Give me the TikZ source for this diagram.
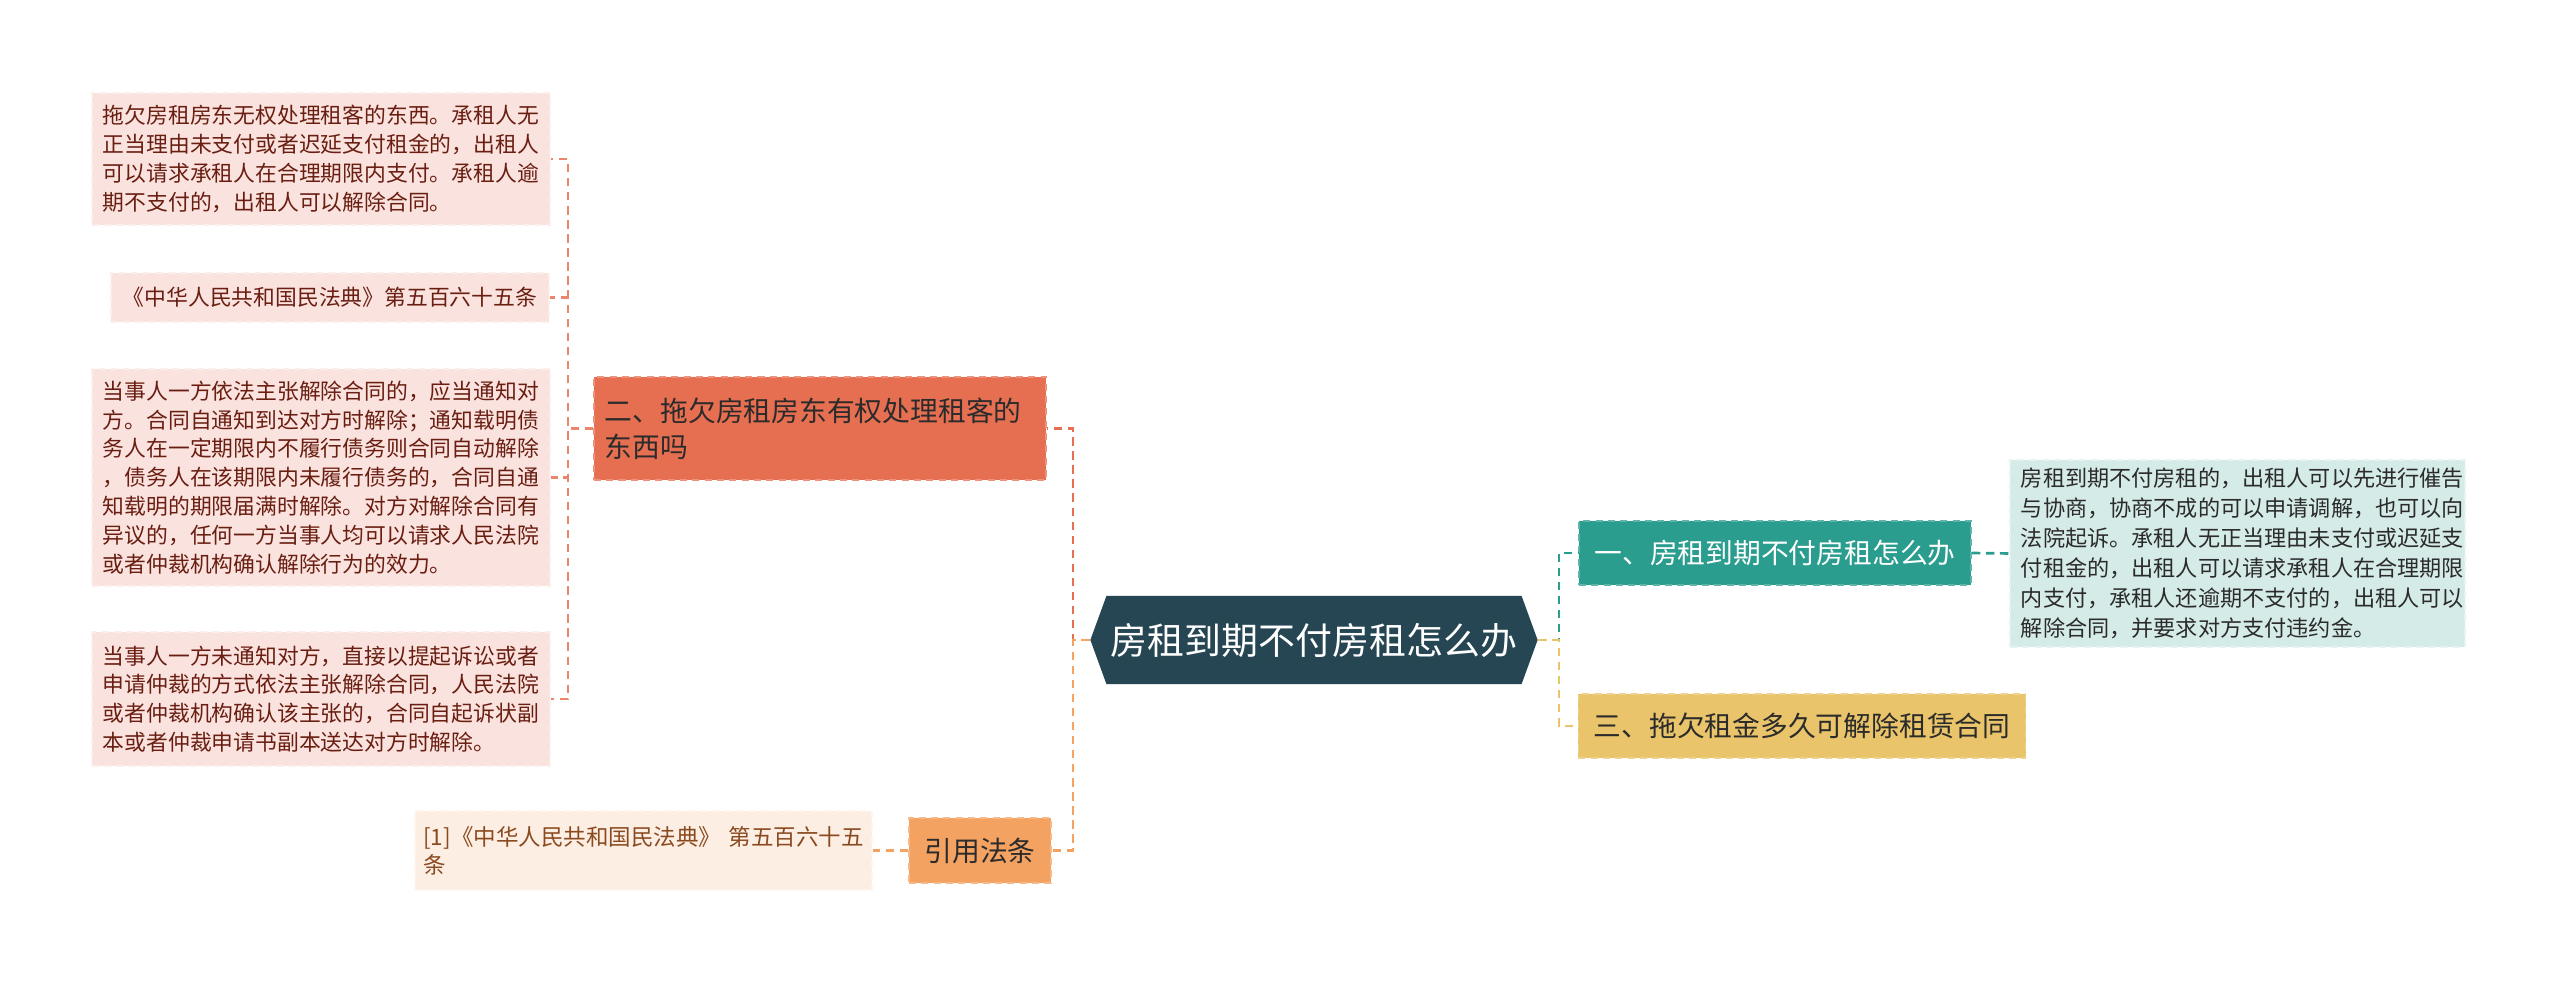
\documentclass[tikz,border=0pt]{standalone}
\usepackage{fontspec}
\setmainfont{Noto Sans CJK SC}
\usetikzlibrary{shapes.symbols}
\definecolor{rootc}{HTML}{264653}
\definecolor{tealc}{HTML}{2A9D8F}
\definecolor{yellowc}{HTML}{E9C46A}
\definecolor{redc}{HTML}{E76F51}
\definecolor{orangec}{HTML}{F4A261}
\definecolor{tealleafc}{HTML}{D5EBE8}
\definecolor{pinkc}{HTML}{FAE3DE}
\definecolor{peachc}{HTML}{FDEEE4}
\definecolor{maroonc}{HTML}{6A1E12}
\definecolor{brownc}{HTML}{8A4A1F}
\definecolor{darkc}{HTML}{2B2B2B}

\begin{document}
\begin{tikzpicture}[x=0.01cm,y=-0.01cm,
  box/.style={inner xsep=0.11cm,inner ysep=0pt,align=left,line width=0.4pt,dash pattern=on 2pt off 1.5pt},
  topic/.style={box,font=\fontsize{7.9}{10.2}\selectfont},
  leaf/.style={box,fill=pinkc,draw=pinkc!60!white,text=maroonc,text width=4.36cm,font=\fontsize{6.2}{8.2}\selectfont},
  link/.style={line width=0.75pt,dash pattern=on 2.4pt off 1.6pt}]
\fill[white] (0,0) rectangle (2560,983);
\node[signal,signal to=east and west,signal pointer angle=140,fill=rootc,text=white,minimum width=4.47cm,minimum height=0.88cm,inner sep=0pt,font=\fontsize{10.5}{12}\selectfont] (root) at (1314,640) {房租到期不付房租怎么办};
\node[topic,fill=tealc,draw=tealc!75!white,text=white,minimum width=3.92cm,minimum height=0.64cm] (q1) at (1775,553) {一、房租到期不付房租怎么办};
\node[topic,fill=yellowc,draw=yellowc!75!white,text=darkc,minimum width=4.47cm,minimum height=0.64cm] (q3) at (1802,726) {三、拖欠租金多久可解除租赁合同};
\node[topic,fill=redc,draw=redc!75!white,text=darkc,text width=4.3cm,minimum height=1.03cm] (q2) at (820,428.5) {二、拖欠房租房东有权处理租客的\\东西吗};
\node[topic,fill=orangec,draw=orangec!75!white,text=darkc,minimum width=1.42cm,minimum height=0.65cm] (cite) at (980,850.5) {引用法条};
\node[box,fill=tealleafc,draw=tealleafc!60!white,text=darkc,text width=4.33cm,minimum height=1.87cm,font=\fontsize{6.3}{8.5}\selectfont] (a1) at (2237.5,553.5) {房租到期不付房租的，出租人可以先进行催告\\与协商，协商不成的可以申请调解，也可以向\\法院起诉。承租人无正当理由未支付或迟延支\\付租金的，出租人可以请求承租人在合理期限\\内支付，承租人还逾期不支付的，出租人可以\\解除合同，并要求对方支付违约金。};
\node[leaf,minimum height=1.32cm] (b1) at (321,159) {拖欠房租房东无权处理租客的东西。承租人无\\正当理由未支付或者迟延支付租金的，出租人\\可以请求承租人在合理期限内支付。承租人逾\\期不支付的，出租人可以解除合同。};
\node[leaf,text width=,align=right,minimum width=4.38cm,minimum height=0.49cm] (b2) at (330,297.5) {《中华人民共和国民法典》第五百六十五条};
\node[leaf,minimum height=2.17cm] (b3) at (321,477.5) {当事人一方依法主张解除合同的，应当通知对\\方。合同自通知到达对方时解除；通知载明债\\务人在一定期限内不履行债务则合同自动解除\\，债务人在该期限内未履行债务的，合同自通\\知载明的期限届满时解除。对方对解除合同有\\异议的，任何一方当事人均可以请求人民法院\\或者仲裁机构确认解除行为的效力。};
\node[leaf,minimum height=1.34cm] (b4) at (321,699) {当事人一方未通知对方，直接以提起诉讼或者\\申请仲裁的方式依法主张解除合同，人民法院\\或者仲裁机构确认该主张的，合同自起诉状副\\本或者仲裁申请书副本送达对方时解除。};
\node[box,fill=peachc,draw=peachc!60!white,text=brownc,text width=4.4cm,inner xsep=0.085cm,minimum height=0.79cm,font=\fontsize{6.4}{8}\selectfont] (c1) at (643.5,850.5) {\mbox{[1]《中华人民共和国民法典》~第五百六十五}\\条};
\coordinate (lj) at (1073,640);
\coordinate (rj) at (1559,640);
\coordinate (bj) at (568,428.5);
\draw[link,redc] (root.west) -- (lj) |- (q2.east);
\draw[link,orangec] (root.west) -- (lj) |- (cite.east);
\draw[link,tealc] (root.east) -- (rj) |- (q1.west);
\draw[link,yellowc] (root.east) -- (rj) |- (q3.west);
\draw[link,tealc] (q1.east) -- (a1.west);
\foreach \n in {b1,b2,b3,b4} \draw[link,redc!85!white] (q2.west) -- (bj) |- (\n.east);
\draw[link,orangec] (cite.west) -- (c1.east);
\end{tikzpicture}
\end{document}
